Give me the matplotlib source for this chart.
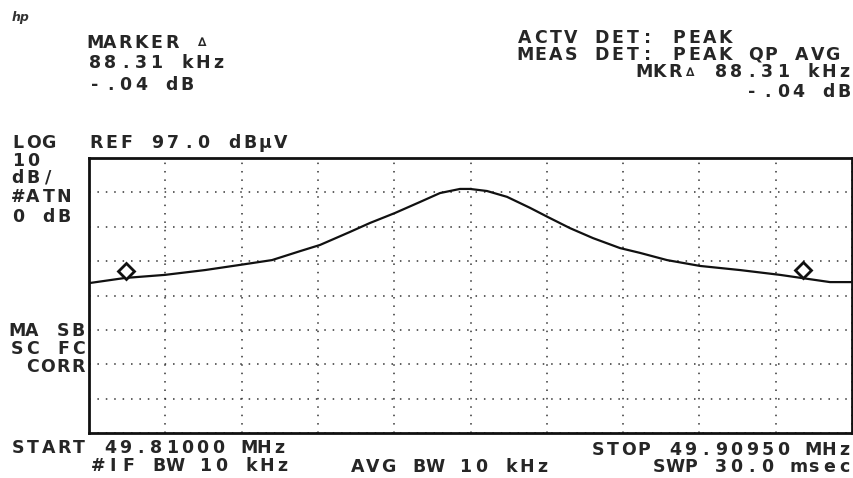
import numpy as np
import matplotlib
matplotlib.use("Agg")
import matplotlib.pyplot as plt

W, H = 854, 478

# trace (MHz, dBuV)
freq = [49.8100, 49.81469, 49.81991, 49.82513, 49.82969, 49.83386, 49.83752,
        49.84012, 49.84404, 49.84664, 49.84990, 49.85316, 49.85577, 49.85838,
        49.85969, 49.86190, 49.86451, 49.86751, 49.86986, 49.87272, 49.87572,
        49.87924, 49.88185, 49.88538, 49.88968, 49.89490, 49.90012, 49.90663,
        49.9095]
level = [60.6, 62.1, 63.0, 64.4, 65.9, 67.3, 69.9, 71.7, 75.5, 78.1, 81.0,
         84.2, 86.8, 88.0, 88.0, 87.4, 85.7, 82.5, 79.8, 76.6, 73.7, 70.8,
         69.4, 67.3, 65.6, 64.4, 63.0, 60.9, 60.9]

marker_freq = [49.81482, 49.90313]
marker_level = [64.1, 64.4]

start_mhz = 49.81000
stop_mhz = 49.90950
ref_level = 97.0
db_per_div = 10
n_ydiv = 8
n_xdiv = 10

fig = plt.figure(figsize=(W / 100, H / 100), dpi=100)
ax = fig.add_axes([89 / W, 1 - 433 / H, (852 - 89) / W, (433 - 158) / H])

bottom = ref_level - db_per_div * n_ydiv
ax.set_xlim(start_mhz, stop_mhz)
ax.set_ylim(bottom, ref_level)
ax.set_xticks(np.linspace(start_mhz, stop_mhz, n_xdiv + 1))
ax.set_yticks(np.linspace(bottom, ref_level, n_ydiv + 1))
ax.tick_params(length=0, labelbottom=False, labelleft=False)
ax.grid(True, color="#333333", lw=1.1, ls=(0, (1, 4.5)))
for s in ax.spines.values():
    s.set_linewidth(2)
    s.set_color("#111111")

ax.plot(freq, level, color="#111111", lw=1.6)
ax.plot(marker_freq, marker_level, ls="none", marker="D", ms=8,
        mfc="white", mec="#111111", mew=2)

PITCH = 15.4
FONT = ["DejaVu Sans", "DejaVu Sans Mono"]


def hp_text(x, y, s, ha="left", size=12.5):
    # plotter-style text: fixed, wide character pitch
    if ha == "right":
        x = x - PITCH * len(s)
    for i, ch in enumerate(s):
        if ch == " ":
            continue
        sz = size * 0.7 if ch == "\u2206" else size
        fig.text((x + PITCH * (i + 0.5)) / W, 1 - y / H, ch, ha="center",
                 va="center", fontsize=sz, family=FONT, weight="bold",
                 color="#262626")


fig.text(12 / W, 1 - 17 / H, "hp", fontsize=9, style="italic",
         weight="bold", va="center", color="#333333")

hp_text(87, 43, "MARKER \u2206")
hp_text(87, 63, "88.31 kHz")
hp_text(87, 85, "-.04 dB")

hp_text(517, 38, "ACTV DET: PEAK")
hp_text(517, 55, "MEAS DET: PEAK QP AVG")
hp_text(852, 72.5, "MKR\u2206 88.31 kHz", ha="right")
hp_text(852, 92, "-.04 dB", ha="right")

hp_text(10, 143, "LOG")
hp_text(88, 143, "REF 97.0 dB\u03bcV")
hp_text(10, 161, "10")
hp_text(10, 178, "dB/")
hp_text(10, 197, "#ATN")
hp_text(10, 217, "0 dB")

hp_text(86, 331, "MA SB", ha="right")
hp_text(86, 349, "SC FC", ha="right")
hp_text(86, 367, "CORR", ha="right")

hp_text(10, 448, "START 49.81000 MHz")
hp_text(90, 466, "#IF BW 10 kHz")
hp_text(350, 467, "AVG BW 10 kHz")
hp_text(852, 450, "STOP 49.90950 MHz", ha="right")
hp_text(852, 467, "SWP 30.0 msec", ha="right")

fig.savefig("out.png", dpi=100)
